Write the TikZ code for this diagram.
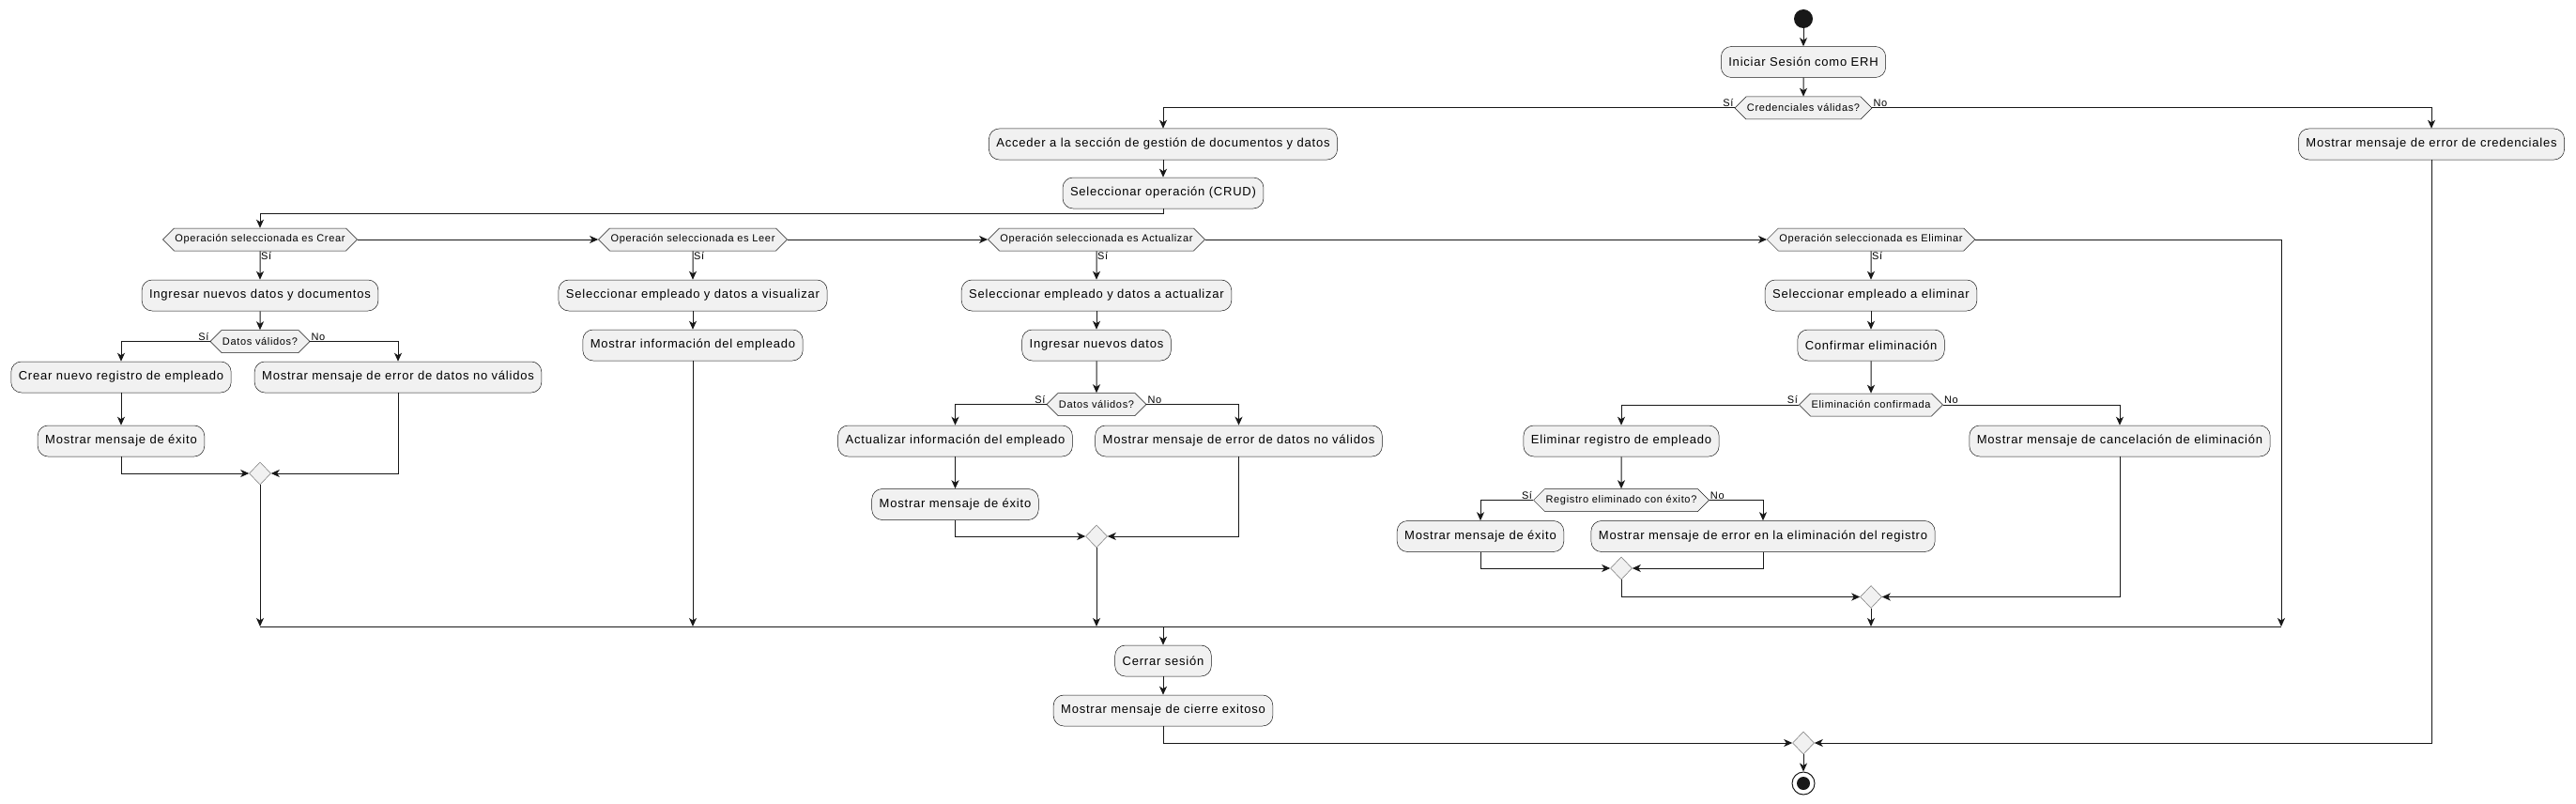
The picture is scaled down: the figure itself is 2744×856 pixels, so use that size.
\documentclass[tikz,border=0pt]{standalone}
\usepackage{fontspec}
\setmainfont{Liberation Sans}
\newfontfamily\spacedfont[LetterSpace=6]{Liberation Sans}
\usetikzlibrary{shapes.geometric,shapes.symbols,arrows.meta}
\definecolor{boxgray}{HTML}{F1F1F1}
\definecolor{ink}{HTML}{181818}
\begin{document}
\begin{tikzpicture}[x=1pt,y=-1pt,>={Stealth[length=9pt,width=8pt,inset=2.5pt]},
    act/.style={draw=ink,fill=boxgray,line width=.5pt,rounded corners=11pt,minimum height=33pt,inner xsep=8pt,font=\spacedfont\fontsize{13}{15}\selectfont},
    cond/.style={signal,signal to=west and east,signal pointer angle=90,draw=ink,fill=boxgray,line width=.5pt,minimum height=24pt,inner xsep=1pt,inner ysep=0pt,font=\spacedfont\fontsize{11}{13}\selectfont},
    merge/.style={diamond,draw=ink!60,fill=boxgray,line width=.5pt,minimum width=23pt,minimum height=24pt,inner sep=0pt},
    flow/.style={draw=ink,line width=1pt},
    lbl/.style={font=\spacedfont\fontsize{11}{12}\selectfont,inner sep=1pt}]
    \useasboundingbox (0,0) rectangle (2744,856);
    \node[circle,fill=ink,minimum size=20pt,inner sep=0pt] (start) at (1921,20) {};
    \node[act] (init) at (1921,66) {Iniciar Sesión como ERH};
    \node[cond] (cred) at (1921,115) {Credenciales válidas?};
    \node[act] (acc) at (1239,153.5) {Acceder a la sección de gestión de documentos y datos};
    \node[act] (errcred) at (2590,153.5) {Mostrar mensaje de error de credenciales};
    \node[act] (crud) at (1239,205.5) {Seleccionar operación (CRUD)};
    \coordinate (split) at (1239,227);
    \node[cond] (opc) at (277,255) {Operación seleccionada es Crear};
    \node[cond] (opl) at (738,255) {Operación seleccionada es Leer};
    \node[cond] (opa) at (1168,255) {Operación seleccionada es Actualizar};
    \node[cond] (ope) at (1993,255) {Operación seleccionada es Eliminar};
    % crear
    \node[act] (ingdoc) at (277,314.5) {Ingresar nuevos datos y documentos};
    \node[cond] (dvc) at (277,363.5) {Datos válidos?};
    \node[act] (creg) at (129,401.5) {Crear nuevo registro de empleado};
    \node[act] (errc) at (424,401.5) {Mostrar mensaje de error de datos no válidos};
    \node[act] (exc) at (129,469.5) {Mostrar mensaje de éxito};
    \node[merge] (mc) at (277,504) {};
    % leer
    \node[act] (selv) at (738,314.5) {Seleccionar empleado y datos a visualizar};
    \node[act] (info) at (738,367.5) {Mostrar información del empleado};
    % actualizar
    \node[act] (sela) at (1168,314.5) {Seleccionar empleado y datos a actualizar};
    \node[act] (ingn) at (1168,367.5) {Ingresar nuevos datos};
    \node[cond] (dva) at (1168,430.5) {Datos válidos?};
    \node[act] (acti) at (1017.5,469.5) {Actualizar información del empleado};
    \node[act] (erra) at (1319.5,469.5) {Mostrar mensaje de error de datos no válidos};
    \node[act] (exa) at (1017.5,537) {Mostrar mensaje de éxito};
    \node[merge] (ma) at (1168,571) {};
    % eliminar
    \node[act] (sele) at (1993,314.5) {Seleccionar empleado a eliminar};
    \node[act] (conf) at (1993,367.5) {Confirmar eliminación};
    \node[cond] (elc) at (1993,431) {Eliminación confirmada};
    \node[act] (elreg) at (1727,469.5) {Eliminar registro de empleado};
    \node[act] (canc) at (2258,469.5) {Mostrar mensaje de cancelación de eliminación};
    \node[cond] (rex) at (1727,532.5) {Registro eliminado con éxito?};
    \node[act] (exe) at (1577,571) {Mostrar mensaje de éxito};
    \node[act] (erre) at (1878,571) {Mostrar mensaje de error en la eliminación del registro};
    \node[merge] (me1) at (1727,605) {};
    \node[merge] (me2) at (1993,635.5) {};
    % cierre
    \coordinate (barL) at (277,667);
    \coordinate (barR) at (2430,667);
    \node[act] (cerrar) at (1239,703.5) {Cerrar sesión};
    \node[act] (cierre) at (1239,756.5) {Mostrar mensaje de cierre exitoso};
    \node[merge] (fin) at (1921,791) {};
    \node[circle,draw=ink,line width=1pt,fill=white,minimum size=24pt,inner sep=0pt] (stop) at (1921,834) {};
    \fill[ink] (stop) circle (7pt);
    % labels
    \node[lbl,anchor=south east] (lcs) at (cred.west) {Sí};
    \node[lbl,anchor=south west] (lcn) at (cred.east) {No};
    \node[lbl,anchor=north west] (lc) at (opc.south) {Sí};
    \node[lbl,anchor=north west] (ll) at (opl.south) {Sí};
    \node[lbl,anchor=north west] (la) at (opa.south) {Sí};
    \node[lbl,anchor=north west] (le) at (ope.south) {Sí};
    \node[lbl,anchor=south east] (ldcs) at (dvc.west) {Sí};
    \node[lbl,anchor=south west] (ldcn) at (dvc.east) {No};
    \node[lbl,anchor=south east] (ldas) at (dva.west) {Sí};
    \node[lbl,anchor=south west] (ldan) at (dva.east) {No};
    \node[lbl,anchor=south east] (lecs) at (elc.west) {Sí};
    \node[lbl,anchor=south west] (lecn) at (elc.east) {No};
    \node[lbl,anchor=south east] (lrs) at (rex.west) {Sí};
    \node[lbl,anchor=south west] (lrn) at (rex.east) {No};
    % flows
    \draw[flow,->] (start) -- (init);
    \draw[flow,->] (init) -- (cred);
    \draw[flow,->] (cred.west) -| (acc.north);
    \draw[flow,->] (cred.east) -| (errcred.north);
    \draw[flow,->] (acc) -- (crud);
    \draw[flow,->] (crud.south) -- (split) -| (opc.north);
    \draw[flow,->] (opc.east) -- (opl.west);
    \draw[flow,->] (opl.east) -- (opa.west);
    \draw[flow,->] (opa.east) -- (ope.west);
    \draw[flow,->] (ope.east) -| (barR);
    \draw[flow,->] (opc) -- (ingdoc);
    \draw[flow,->] (ingdoc) -- (dvc);
    \draw[flow,->] (dvc.west) -| (creg.north);
    \draw[flow,->] (dvc.east) -| (errc.north);
    \draw[flow,->] (creg) -- (exc);
    \draw[flow,->] (exc.south) |- (mc.west);
    \draw[flow,->] (errc.south) |- (mc.east);
    \draw[flow,->] (mc.south) -- (mc.south |- barL);
    \draw[flow,->] (opl) -- (selv);
    \draw[flow,->] (selv) -- (info);
    \draw[flow,->] (info.south) -- (info.south |- barL);
    \draw[flow,->] (opa) -- (sela);
    \draw[flow,->] (sela) -- (ingn);
    \draw[flow,->] (ingn) -- (dva);
    \draw[flow,->] (dva.west) -| (acti.north);
    \draw[flow,->] (dva.east) -| (erra.north);
    \draw[flow,->] (acti) -- (exa);
    \draw[flow,->] (exa.south) |- (ma.west);
    \draw[flow,->] (erra.south) |- (ma.east);
    \draw[flow,->] (ma.south) -- (ma.south |- barL);
    \draw[flow,->] (ope) -- (sele);
    \draw[flow,->] (sele) -- (conf);
    \draw[flow,->] (conf) -- (elc);
    \draw[flow,->] (elc.west) -| (elreg.north);
    \draw[flow,->] (elc.east) -| (canc.north);
    \draw[flow,->] (elreg) -- (rex);
    \draw[flow,->] (rex.west) -| (exe.north);
    \draw[flow,->] (rex.east) -| (erre.north);
    \draw[flow,->] (exe.south) |- (me1.west);
    \draw[flow,->] (erre.south) |- (me1.east);
    \draw[flow,->] (me1.south) |- (me2.west);
    \draw[flow,->] (canc.south) |- (me2.east);
    \draw[flow,->] (me2.south) -- (me2.south |- barL);
    \draw[flow] (barL) -- (barR);
    \draw[flow,->] (cerrar.north |- barL) -- (cerrar);
    \draw[flow,->] (cerrar) -- (cierre);
    \draw[flow,->] (cierre.south) |- (fin.west);
    \draw[flow,->] (errcred.south) |- (fin.east);
    \draw[flow,->] (fin) -- (stop);
\end{tikzpicture}
\end{document}
